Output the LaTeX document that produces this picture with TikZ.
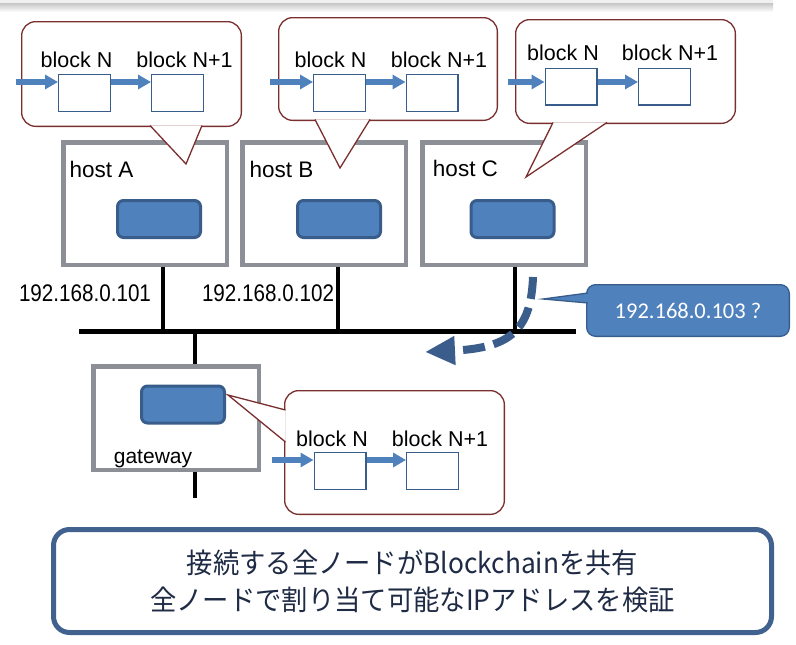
\documentclass[tikz,border=0pt]{standalone}
\usepackage{fontspec}
\setmainfont{Liberation Sans}
\newfontfamily\jpfont[FakeStretch=0.94]{Noto Sans CJK JP}
\newfontfamily\calfont{Carlito}
\newfontfamily\ipfont[FakeStretch=0.86]{Liberation Sans}
\usepackage{xcolor}
\usetikzlibrary{arrows.meta, positioning, calc}

\definecolor{nicblue}{HTML}{4F81BD}
\definecolor{nicedge}{HTML}{385D8A}
\definecolor{hostgray}{HTML}{8C9096}
\definecolor{bubred}{HTML}{7A2E2E}
\definecolor{boxblue}{HTML}{41628F}
\definecolor{textnavy}{HTML}{1F2B45}
\definecolor{qblue}{HTML}{3A5D8C}

\begin{document}
\begin{tikzpicture}[x=1pt, y=-1pt,
    hostbox/.style={draw=hostgray, line width=4.5pt, fill=white, minimum width=163.5pt, minimum height=122.5pt, inner sep=0pt},
    nic/.style={draw=nicedge, fill=nicblue, line width=3pt, rounded corners=6pt, minimum width=83pt, minimum height=37pt, inner sep=0pt},
    bubble/.style={draw=bubred, line width=1.3pt, fill=white, rounded corners=14pt, inner sep=0pt},
    blockbox/.style={draw=nicedge, line width=1.3pt, fill=white, minimum width=51.7pt, minimum height=36.7pt, inner sep=0pt},
    blocktext/.style={font=\fontsize{21.5}{25}\selectfont, inner sep=0pt},
    hosttext/.style={font=\fontsize{22.5}{26}\selectfont, inner sep=0pt},
    iptext/.style={font=\ipfont\fontsize{24}{28}\selectfont, inner sep=0pt},
    chain/.style={draw=nicblue, line width=5.5pt, -{Triangle[length=13pt, width=14pt]}},
    wire/.style={line width=4pt, black},
]
\useasboundingbox (0,0) rectangle (796,645);

% slide edge shadow
\fill[gray!12] (0,0) rectangle (773,3);
\shade[top color=gray!45, bottom color=white] (0,3) rectangle (773,12);

% network bus and taps
\coordinate (busL) at (79,331);
\coordinate (busR) at (576,331);
\coordinate (tapA) at (163,331);
\coordinate (tapB) at (338,331);
\coordinate (tapC) at (515,331);
\coordinate (tapG) at (195,331);
\coordinate (gwdown) at (195,498);
\draw[line width=5pt] (busL) -- (busR);

% hosts
\node[hostbox] (hostA) at (145,203.5) {};
\node[hostbox] (hostB) at (324,203.5) {};
\node[hostbox] (hostC) at (504,203.5) {};
\node[nic] (nicA) at (159,219) {};
\node[nic] (nicB) at (339,219) {};
\node[nic] (nicC) at (512.5,219) {};
\node[hosttext] (labA) at (101.5,169) {host A};
\node[hosttext] (labB) at (281.5,169) {host B};
\node[hosttext] (labC) at (465.5,168) {host C};
\draw[wire] (tapA |- hostA.south) -- (tapA);
\draw[wire] (tapB |- hostB.south) -- (tapB);
\draw[wire] (tapC |- hostC.south) -- (tapC);

% addresses
\node[iptext] (ipA) at (85,293.5) {192.168.0.101};
\node[iptext] (ipB) at (268,293.5) {192.168.0.102};

% gateway
\node[hostbox, minimum width=165.5pt, minimum height=103.5pt] (gw) at (176,418) {};
\node[nic] (nicG) at (183,404.5) {};
\node[font=\fontsize{21}{24}\selectfont, inner sep=0pt] (labG) at (153,459) {gateway};
\draw[wire] (tapG) -- (tapG |- gw.north);
\draw[wire] (gw.south -| gwdown) -- (gwdown);

% chain bubble over host A
\node[bubble, minimum width=219.7pt, minimum height=104.7pt] (bubA) at (131.5,74) {};
\draw[bubred, line width=1.3pt, fill=white] (150,125.5) -- (186,164) -- (202,125.5);
\node[blockbox] (blkA1) at (84.5,93) {};
\node[blockbox] (blkA2) at (177.5,93) {};
\node[blocktext] at (76.5,60) {block N};
\node[blocktext] at (184.5,60) {block N+1};
\coordinate (feedA) at (16,82);
\draw[chain] (feedA) -- (feedA -| blkA1.west);
\draw[chain] (blkA1.east |- feedA) -- (blkA2.west |- feedA);

% chain bubble over host B
\node[bubble, minimum width=218.7pt, minimum height=102.7pt] (bubB) at (388,69) {};
\draw[bubred, line width=1.3pt, fill=white] (315,119.5) -- (340,168) -- (370,119.5);
\node[blockbox] (blkB1) at (339.5,93) {};
\node[blockbox] (blkB2) at (432,93) {};
\node[blocktext] at (330.5,60) {block N};
\node[blocktext] at (439,60) {block N+1};
\coordinate (feedB) at (270,82);
\draw[chain] (feedB) -- (feedB -| blkB1.west);
\draw[chain] (blkB1.east |- feedB) -- (blkB2.west |- feedB);

% chain bubble over host C
\node[bubble, minimum width=219.7pt, minimum height=103.7pt] (bubC) at (625.5,71.5) {};
\draw[bubred, line width=1.3pt, fill=white] (553,122.5) -- (526,177) -- (607,122.5);
\node[blockbox] (blkC1) at (571,86.5) {};
\node[blockbox] (blkC2) at (664.5,86.5) {};
\node[blocktext] at (563,53) {block N};
\node[blocktext] at (670,53) {block N+1};
\coordinate (feedC) at (508,82);
\draw[chain] (feedC) -- (feedC -| blkC1.west);
\draw[chain] (blkC1.east |- feedC) -- (blkC2.west |- feedC);

% chain bubble beside the gateway
\node[bubble, minimum width=219.7pt, minimum height=123.7pt] (bubG) at (394.5,452.5) {};
\draw[bubred, line width=1.3pt, fill=white] (285.5,410) -- (228,395) -- (285.5,442);
\node[blockbox] (blkG1) at (340,471) {};
\node[blockbox] (blkG2) at (432.5,471) {};
\node[blocktext] at (332,439) {block N};
\node[blocktext] at (440,439) {block N+1};
\coordinate (feedG) at (272,460);
\draw[chain] (feedG) -- (feedG -| blkG1.west);
\draw[chain] (blkG1.east |- feedG) -- (blkG2.west |- feedG);

% the question about a new address
\node[draw=nicedge, fill=nicblue, line width=1.3pt, rounded corners=9pt, minimum width=202.7pt, minimum height=51.7pt,
      text=white, font=\calfont\fontsize{22.5}{26}\selectfont] (ask) at (688,310.5) {192.168.0.103 ?};
\draw[nicedge, line width=1.3pt, fill=nicblue] (588,293) -- (543,299) -- (588,303);
\coordinate (qstart) at (533,277);
\coordinate (qtip) at (425,352);
\draw[qblue, line width=8pt, dash pattern=on 22pt off 9pt, -{Triangle[length=30pt, width=27pt]}]
    (qstart) .. controls (531,332) and (508,348) .. (qtip);

% summary
\node[draw=boxblue, line width=5pt, rounded corners=16pt, minimum width=718pt, minimum height=103pt,
      align=center, text=textnavy, font=\jpfont\fontsize{28}{37}\selectfont] (summary) at (412.5,581)
      {接続する全ノードがBlockchainを共有\\全ノードで割り当て可能なIPアドレスを検証};
\end{tikzpicture}
\end{document}
